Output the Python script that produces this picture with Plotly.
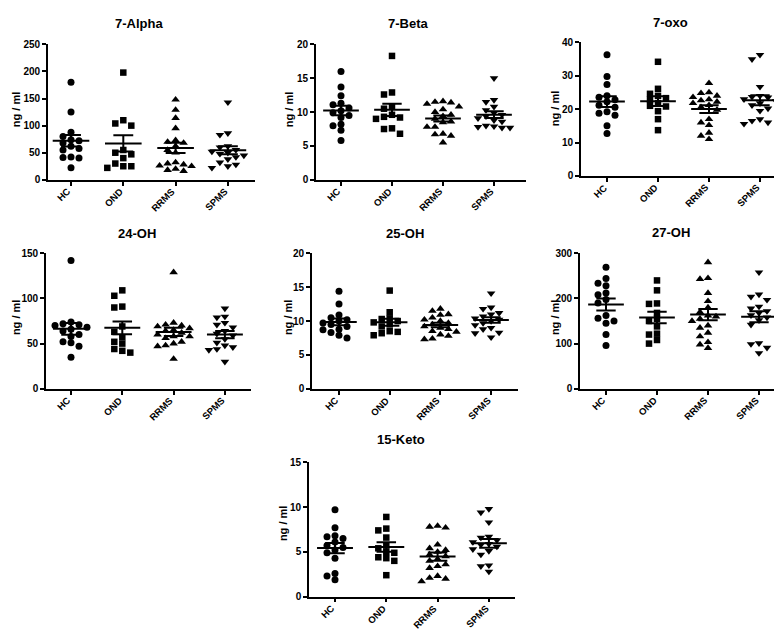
import numpy as np
import plotly.graph_objects as go

W, H = 782, 630
categories = ["HC", "OND", "RRMS", "SPMS"]

# ---------------- data (ng / ml) ----------------
alpha7_hc = [180, 125, 88, 80, 74, 72, 68, 62, 58, 55, 42, 41, 40, 22]
alpha7_ond = [198, 110, 104, 100, 55, 50, 47, 40, 30, 25, 25, 22]
alpha7_rrms = [148, 129, 114, 95, 73, 70, 68, 62, 55, 50, 32, 30, 28, 26, 25, 20, 18, 16]
alpha7_spms = [143, 86, 83, 62, 60, 55, 52, 50, 48, 45, 42, 38, 32, 28, 25, 22]

beta7_hc = [16.0, 13.7, 12.4, 11.3, 11.1, 10.6, 10.2, 9.9, 9.5, 9.2, 8.2, 8.0, 7.3, 5.8]
beta7_ond = [18.3, 12.9, 12.6, 10.8, 10.5, 9.6, 9.0, 9.3, 9.2, 7.6, 7.5, 6.8]
beta7_rrms = [11.6, 11.5, 11.4, 11.2, 10.8, 10.4, 10.0, 9.6, 9.4, 9.0, 8.6, 8.5, 7.8, 7.8, 6.8, 6.7, 6.5, 5.5]
beta7_spms = [15.0, 11.8, 11.5, 10.8, 10.3, 9.9, 9.6, 9.4, 9.1, 8.8, 8.6, 8.0, 7.9, 7.8, 7.7, 7.7]

oxo7_hc = [36.3, 29.8, 27.4, 24.0, 23.6, 22.8, 22.2, 21.2, 20.6, 19.2, 18.8, 18.2, 15.0, 12.7]
oxo7_ond = [34.2, 26.1, 24.6, 24.0, 23.3, 22.8, 21.8, 21.0, 20.8, 19.4, 17.0, 13.7]
oxo7_rrms = [27.8, 25.0, 24.8, 24.0, 23.6, 22.9, 22.6, 22.2, 21.8, 21.2, 20.6, 19.8, 17.0, 16.0, 15.2, 12.9, 12.0, 11.0]
oxo7_spms = [36.3, 35.0, 26.7, 24.0, 23.7, 23.5, 23.0, 22.4, 21.8, 21.2, 20.2, 19.5, 17.0, 16.5, 16.0, 15.6]

oh24_hc = [142, 74, 72, 71, 70, 68, 66, 64, 60, 58, 52, 51, 47, 35]
oh24_ond = [109, 103, 91, 90, 69, 63, 57, 52, 50, 44, 42, 40]
oh24_rrms = [129, 73, 71, 70, 69, 67, 65, 64, 62, 60, 58, 58, 56, 52, 50, 48, 47, 33]
oh24_spms = [89, 80, 79, 73, 71, 68, 64, 61, 59, 55, 51, 48, 46, 44, 43, 30]

oh25_hc = [14.4, 12.5, 10.9, 10.5, 10.2, 10.0, 9.7, 9.5, 9.2, 8.8, 8.7, 8.3, 7.9, 7.5]
oh25_ond = [14.5, 11.3, 10.4, 10.3, 10.0, 9.8, 9.5, 9.2, 8.5, 8.4, 8.2, 7.9]
oh25_rrms = [11.8, 11.5, 11.0, 10.9, 10.5, 10.2, 10.0, 9.7, 9.5, 9.2, 9.0, 8.8, 8.5, 8.4, 8.0, 7.8, 7.4, 7.3]
oh25_spms = [14.1, 12.0, 11.8, 11.2, 11.0, 10.7, 10.4, 10.2, 10.0, 9.7, 9.4, 9.0, 8.8, 8.3, 8.2, 7.6]

oh27_hc = [269, 244, 234, 228, 212, 208, 198, 190, 162, 156, 150, 145, 120, 96]
oh27_ond = [240, 218, 189, 188, 168, 155, 150, 138, 122, 120, 108, 100]
oh27_rrms = [280, 245, 243, 212, 194, 180, 170, 162, 160, 155, 150, 140, 135, 124, 116, 103, 98, 90]
oh27_spms = [258, 209, 204, 197, 182, 178, 172, 168, 163, 158, 152, 142, 101, 99, 91, 79]

keto15_hc = [9.7, 7.7, 6.8, 6.7, 6.5, 6.1, 5.7, 5.5, 5.2, 4.9, 4.3, 2.6, 2.3, 1.9]
keto15_ond = [8.9, 7.6, 7.4, 6.6, 5.7, 5.4, 5.0, 4.9, 4.4, 4.3, 4.0, 2.4]
keto15_rrms = [7.9, 7.8, 7.7, 5.8, 5.4, 5.2, 5.0, 4.7, 4.5, 4.2, 4.0, 3.6, 3.4, 3.2, 2.3, 2.1, 2.0, 1.7]
keto15_spms = [9.8, 9.4, 8.3, 6.7, 6.6, 6.3, 6.1, 5.9, 5.8, 5.6, 5.3, 5.1, 4.7, 3.5, 3.4, 2.8]

titles = ["7-Alpha", "7-Beta", "7-oxo", "24-OH", "25-OH", "27-OH", "15-Keto"]
y_max = [250, 20, 40, 150, 20, 300, 15]
y_step = [50, 5, 10, 50, 5, 100, 5]
panel_data = [
    [alpha7_hc, alpha7_ond, alpha7_rrms, alpha7_spms],
    [beta7_hc, beta7_ond, beta7_rrms, beta7_spms],
    [oxo7_hc, oxo7_ond, oxo7_rrms, oxo7_spms],
    [oh24_hc, oh24_ond, oh24_rrms, oh24_spms],
    [oh25_hc, oh25_ond, oh25_rrms, oh25_spms],
    [oh27_hc, oh27_ond, oh27_rrms, oh27_spms],
    [keto15_hc, keto15_ond, keto15_rrms, keto15_spms],
]

# ---------------- layout (pixel boxes) ----------------
# (x_left, x_right, y_top, y_bottom, first-category px, category spacing px)
boxes = [
    (40, 247, 31, 169, 63, 52.3),
    (308, 518, 31, 169, 333, 51),
    (573, 780, 29, 165, 599, 51),
    (38, 243, 244, 382, 63, 51.3),
    (304, 510, 244, 382, 331, 50.7),
    (572, 778, 244, 382, 598, 51),
    (301, 507, 457, 594, 327, 51.3),
]
title_pos = [(131, 10), (400, 10), (662, 9), (129, 224), (397, 224), (663, 223), (393, 434)]
ytitle_pos = [(8, 98), (281, 98), (547, 97), (8, 310), (280, 310), (547, 310), (275, 520)]

symbols = ["circle", "square", "triangle-up", "triangle-down"]
sizes = [7, 6.5, 7.5, 7.5]
FONT = "Liberation Sans, Arial, sans-serif"


def swarm(values, ypx, xpx, step_px=8.0, diam=5.6):
    vals = np.asarray(values, dtype=float)
    order = np.argsort(-vals)
    placed = []
    offs = np.zeros(len(vals))
    for i in order:
        y = vals[i] * ypx
        chosen = 0.0
        for k in [0, -1, 1, -2, 2, -3, 3, -4, 4]:
            dx = k * step_px
            if all((dx - px) ** 2 + (y - py) ** 2 >= diam ** 2 for px, py in placed):
                chosen = dx
                break
        placed.append((chosen, y))
        offs[i] = chosen / xpx
    return offs


fig = go.Figure()
annotations = []
for p in range(7):
    xl, xr, yt, yb, c0, sp = boxes[p]
    xmin = (xl - c0) / sp
    xmax = (xr - c0) / sp
    ax = "" if p == 0 else str(p + 1)
    xa, ya = "x" + ax, "y" + ax
    ypx = (yb - yt) / y_max[p]
    xpx = sp
    seg_x, seg_y = [], []
    for g, vals in enumerate(panel_data[p]):
        offs = swarm(vals, ypx, xpx)
        fig.add_trace(go.Scatter(
            x=g + offs, y=vals, mode="markers", xaxis=xa, yaxis=ya,
            marker=dict(symbol=symbols[g], size=sizes[g], color="black",
                        line=dict(width=0)),
            cliponaxis=False, hoverinfo="y", name=categories[g]))
        arr = np.asarray(vals, dtype=float)
        m = arr.mean()
        sem = arr.std(ddof=1) / np.sqrt(len(arr))
        seg_x += [g - 0.35, g + 0.35, None,
                  g - 0.19, g + 0.19, None,
                  g - 0.19, g + 0.19, None,
                  g, g, None]
        seg_y += [m, m, None,
                  m + sem, m + sem, None,
                  m - sem, m - sem, None,
                  m - sem, m + sem, None]
        # rotated category label under its tick
        annotations.append(dict(text=categories[g], x=g, xref=xa,
                                y=1 - (yb + 5) / H, yref="paper",
                                xanchor="right", yanchor="top", xshift=3,
                                textangle=-45, showarrow=False, borderpad=0,
                                font=dict(family=FONT, size=9.5, color="black",
                                          weight="bold")))
    fig.add_trace(go.Scatter(x=seg_x, y=seg_y, mode="lines", xaxis=xa, yaxis=ya,
                             line=dict(color="black", width=2), cliponaxis=False,
                             hoverinfo="skip"))
    xdom = [xl / W, xr / W]
    ydom = [1 - yb / H, 1 - yt / H]
    fig.update_layout(**{
        "xaxis" + ax: dict(domain=xdom, range=[xmin, xmax], anchor=ya,
                           tickvals=[0, 1, 2, 3], showticklabels=False,
                           showgrid=False, zeroline=False,
                           showline=True, linecolor="black", linewidth=1.6,
                           ticks="outside", ticklen=4, tickwidth=1.6,
                           tickcolor="black"),
        "yaxis" + ax: dict(domain=ydom, range=[0, y_max[p]], anchor=xa,
                           tickvals=list(range(0, y_max[p] + 1, y_step[p])),
                           showgrid=False, zeroline=False,
                           showline=True, linecolor="black", linewidth=1.6,
                           ticks="outside", ticklen=4, tickwidth=1.6,
                           tickcolor="black",
                           tickfont=dict(family=FONT, size=10, color="black",
                                         weight="bold")),
    })
    tx, ty = title_pos[p]
    annotations.append(dict(text=titles[p], x=tx / W, y=1 - ty / H, xref="paper",
                            yref="paper", showarrow=False, xanchor="center",
                            yanchor="middle",
                            font=dict(family=FONT, size=13, color="black",
                                      weight="bold")))
    yx, yy = ytitle_pos[p]
    annotations.append(dict(text="ng / ml", x=yx / W, y=1 - yy / H, xref="paper",
                            yref="paper", showarrow=False, xanchor="center",
                            yanchor="middle", textangle=-90,
                            font=dict(family=FONT, size=11, color="black",
                                      weight="bold")))

fig.update_layout(width=W, height=H, margin=dict(l=0, r=0, t=0, b=0),
                  paper_bgcolor="white", plot_bgcolor="white",
                  showlegend=False, annotations=annotations)
fig.write_html("out.html")
